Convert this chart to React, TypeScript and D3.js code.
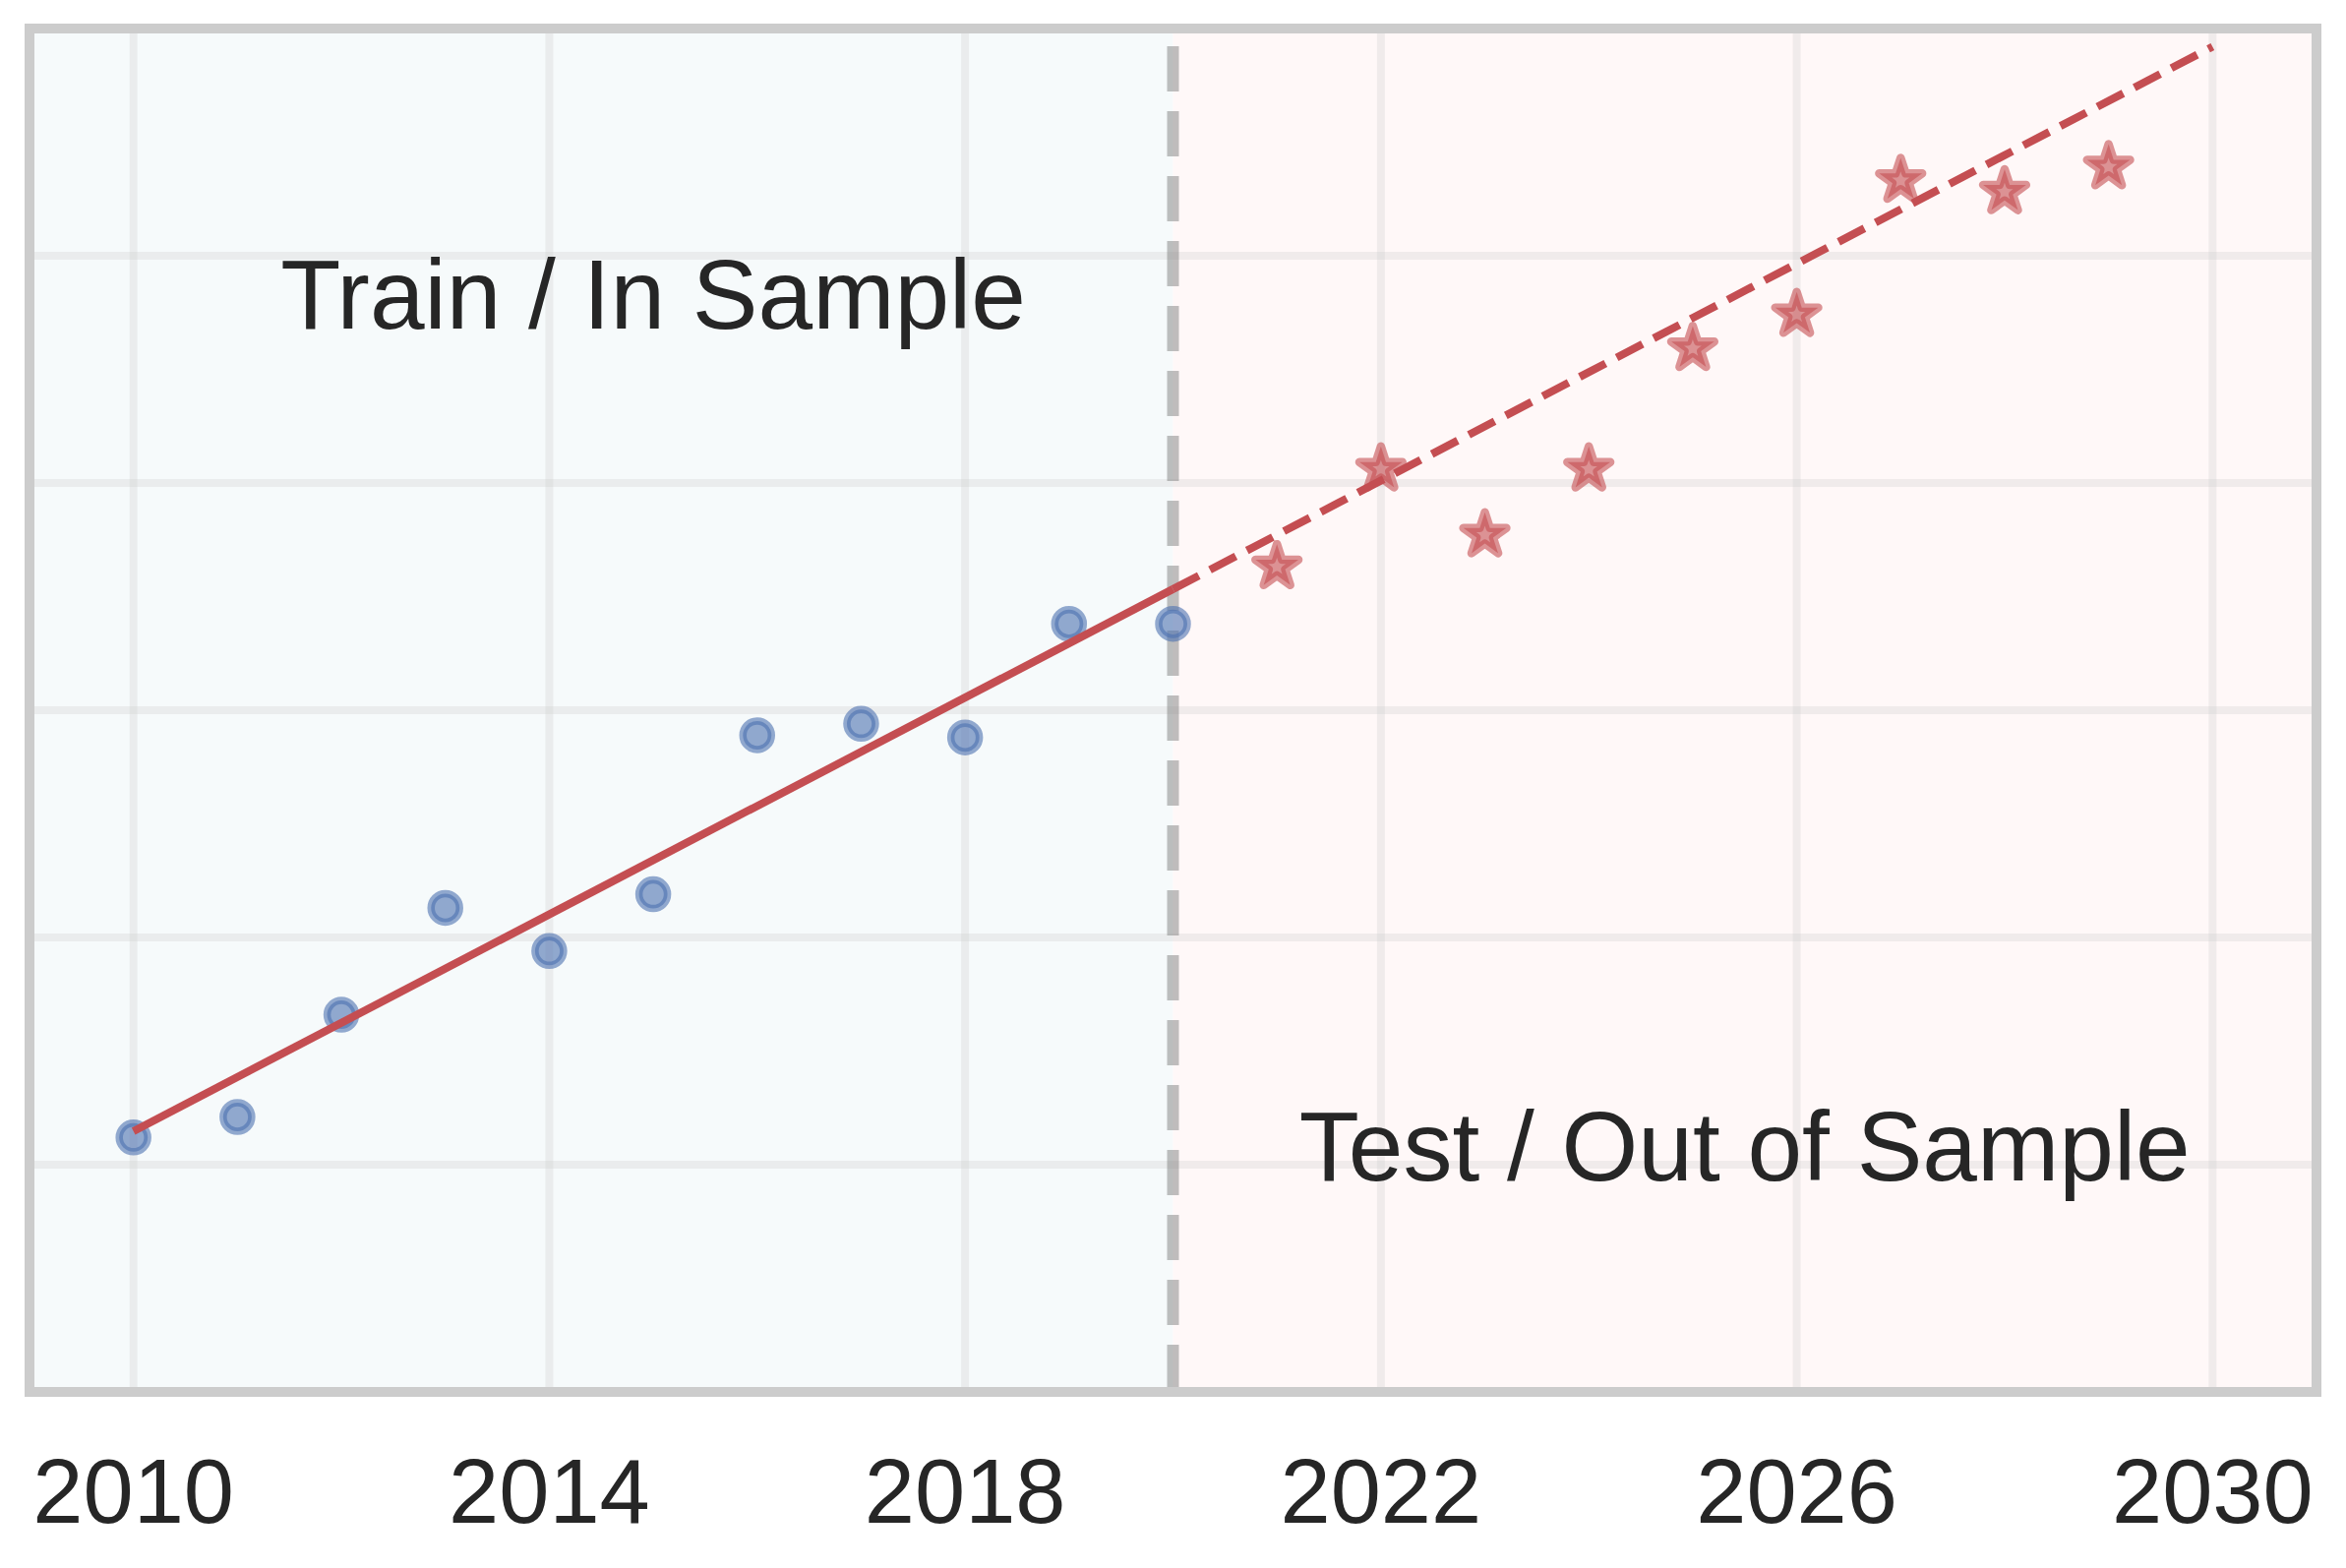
import { useEffect, useRef } from "react";
import * as d3 from "d3";

const trainYears = [2010, 2011, 2012, 2013, 2014, 2015, 2016, 2017, 2018, 2019, 2020];
const trainValues = [1.12, 1.21, 1.66, 2.13, 1.94, 2.19, 2.89, 2.94, 2.88, 3.38, 3.38];
const testYears = [2021, 2022, 2023, 2024, 2025, 2026, 2027, 2028, 2029];
const testValues = [3.64, 4.07, 3.78, 4.07, 4.6, 4.75, 5.34, 5.29, 5.4];
const fitYears = [2010, 2020, 2030];
const fitValues = [1.147, 3.533, 5.92];
const xTicks = [2010, 2014, 2018, 2022, 2026, 2030];
const yTicks = [0, 1, 2, 3, 4, 5, 6];
const splitYear = 2020;

export default function App() {
  const svgRef = useRef<SVGSVGElement>(null);

  useEffect(() => {
    const W = 2385, H = 1594;
    const m = { left: 30, right: 30, top: 29, bottom: 179 };
    const iW = W - m.left - m.right;
    const iH = H - m.top - m.bottom;

    const svg = d3.select(svgRef.current);
    svg.selectAll("*").remove();
    const g = svg.append("g").attr("transform", `translate(${m.left},${m.top})`);

    const x = d3.scaleLinear().domain([2009, 2031]).range([0, iW]);
    const y = d3.scaleLinear().domain([0, 6]).range([iH, 0]);

    // shaded regions
    g.append("rect").attr("x", 0).attr("y", 0).attr("width", x(splitYear)).attr("height", iH).attr("fill", "#f6fafb");
    g.append("rect").attr("x", x(splitYear)).attr("y", 0).attr("width", iW - x(splitYear)).attr("height", iH).attr("fill", "#fff8f8");

    // grid
    const grid = g.append("g").attr("stroke", "#cccccc").attr("stroke-opacity", 0.3).attr("stroke-width", 8);
    grid.selectAll("line.gx").data(xTicks).join("line").attr("class", "gx")
      .attr("x1", d => x(d)).attr("x2", d => x(d)).attr("y1", 0).attr("y2", iH);
    grid.selectAll("line.gy").data(yTicks).join("line").attr("class", "gy")
      .attr("x1", 0).attr("x2", iW).attr("y1", d => y(d)).attr("y2", d => y(d));

    // split line
    g.append("line")
      .attr("x1", x(splitYear)).attr("x2", x(splitYear)).attr("y1", 0).attr("y2", iH)
      .attr("stroke", "#808080").attr("stroke-opacity", 0.5).attr("stroke-width", 12)
      .attr("stroke-dasharray", "46,20").attr("stroke-dashoffset", 48);

    // train points
    g.append("g").selectAll("circle").data(trainYears).join("circle")
      .attr("cx", d => x(d)).attr("cy", (d, i) => y(trainValues[i])).attr("r", 14.5)
      .attr("fill", "#4c72b0").attr("fill-opacity", 0.6)
      .attr("stroke", "#4c72b0").attr("stroke-opacity", 0.6).attr("stroke-width", 7.5);

    // test points
    const starR = 23;
    const star = d3.symbol().type(d3.symbolStar).size(starR * starR / 0.8908130915292852);
    g.append("g").selectAll("path").data(testYears).join("path")
      .attr("transform", (d, i) => `translate(${x(d)},${y(testValues[i]) + 2})`)
      .attr("d", star())
      .attr("fill", "#c44e52").attr("fill-opacity", 0.6)
      .attr("stroke", "#c44e52").attr("stroke-opacity", 0.6).attr("stroke-width", 8.5)
      .attr("stroke-linejoin", "round");

    // fit line
    const line = d3.line<number>().x(d => x(fitYears[d])).y(d => y(fitValues[d]));
    g.append("path").attr("d", line([0, 1]))
      .attr("fill", "none").attr("stroke", "#c44e52").attr("stroke-width", 8);
    g.append("path").attr("d", line([1, 2]))
      .attr("fill", "none").attr("stroke", "#c44e52").attr("stroke-width", 8)
      .attr("stroke-dasharray", "29.6,12.8");

    // frame
    g.append("rect").attr("x", 0).attr("y", 0).attr("width", iW).attr("height", iH)
      .attr("fill", "none").attr("stroke", "#cccccc").attr("stroke-width", 10);

    // x axis labels
    g.append("g").selectAll("text").data(xTicks).join("text")
      .attr("x", d => x(d)).attr("y", iH + 133)
      .attr("text-anchor", "middle")
      .attr("font-family", "Liberation Sans, Arial, sans-serif").attr("font-size", 92)
      .attr("fill", "#262626")
      .text(d => String(d));

    // annotations
    const note = { family: "Liberation Sans, Arial, sans-serif", size: 100 };
    g.append("text").attr("x", x(2015)).attr("y", 334 - m.top)
      .attr("text-anchor", "middle").attr("font-family", note.family).attr("font-size", note.size)
      .attr("fill", "#262626").text("Train / In Sample");
    g.append("text").attr("x", iW * 0.75).attr("y", 1200 - m.top)
      .attr("text-anchor", "middle").attr("font-family", note.family).attr("font-size", note.size)
      .attr("fill", "#262626").text("Test / Out of Sample");
  }, []);

  return (
    <svg ref={svgRef} width={2385} height={1594}
      style={{ position: "absolute", left: 0, top: 0, background: "#ffffff" }} />
  );
}
